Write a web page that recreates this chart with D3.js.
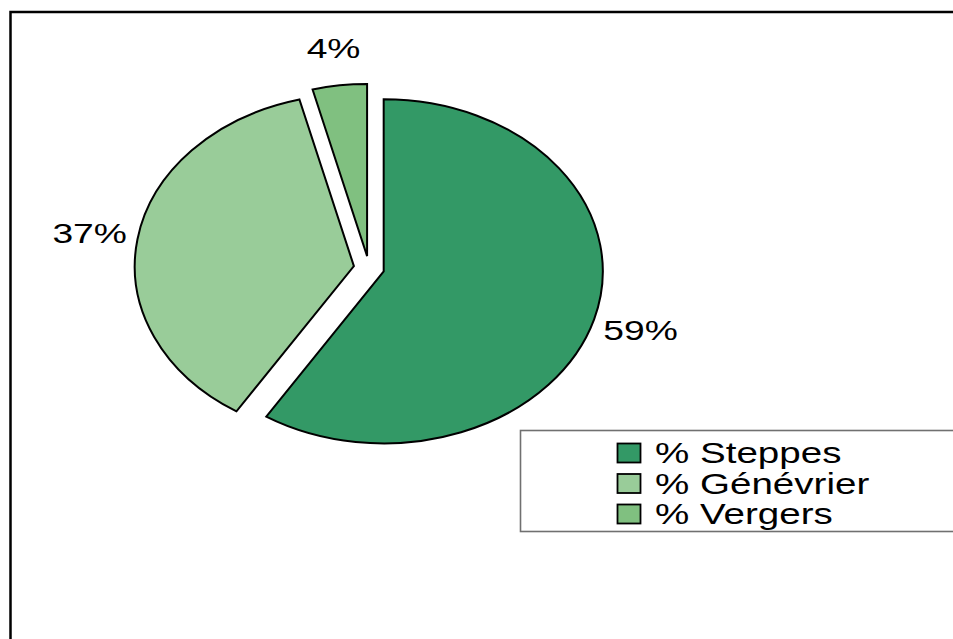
<!DOCTYPE html>
<html><head><meta charset="utf-8">
<script src="https://cdn.jsdelivr.net/npm/d3@7"></script>
<style>body{margin:0;background:#fff}svg{display:block}text{font-family:"Liberation Sans",Arial,sans-serif;fill:#000}</style>
</head><body><script>
const categories = ["% Steppes", "% Génévrier", "% Vergers"];
const values = [59, 37, 4];
const labels = ["59%", "37%", "4%"];
const colors = ["#339966", "#99cc99", "#80c080"];

const W = 953, H = 639;
const svg = d3.select("body").append("svg").attr("width", W).attr("height", H);
svg.append("rect").attr("width", W).attr("height", H).attr("fill", "#fff");
// outer frame (extends past right/bottom edges)
svg.append("rect").attr("x", 10.5).attr("y", 12).attr("width", 1000).attr("height", 700)
  .attr("fill", "none").attr("stroke", "#000").attr("stroke-width", 2.5);

const cx = 369, cy = 268, r = 172, sx = 1.274, explode = 12, labelR = 222, tx = 1.33;
const pie = d3.pie().sort(null).value(d => d)(values);
const arc = d3.arc().innerRadius(0).outerRadius(r);
const mid = d => (d.startAngle + d.endAngle) / 2;

const g = svg.append("g").attr("transform", `translate(${cx},${cy}) scale(${sx},1)`);
g.selectAll("path").data(pie).join("path")
  .attr("transform", d => `translate(${explode * Math.sin(mid(d))},${-explode * Math.cos(mid(d))})`)
  .attr("d", arc)
  .attr("fill", (d, i) => colors[i])
  .attr("stroke", "#000").attr("stroke-width", 2)
  .attr("vector-effect", "non-scaling-stroke")
  .attr("stroke-linejoin", "miter");

svg.selectAll("text.lbl").data(pie).join("text").attr("class", "lbl")
  .attr("transform", d => `translate(${cx + sx * labelR * Math.sin(mid(d))},${cy - labelR * Math.cos(mid(d)) + 10}) scale(${tx},1)`)
  .attr("text-anchor", "middle")
  .style("font-size", "28px")
  .text((d, i) => labels[i]);

// legend
svg.append("rect").attr("x", 520.5).attr("y", 430.5).attr("width", 500).attr("height", 101)
  .attr("fill", "#fff").attr("stroke", "#707070").attr("stroke-width", 1.6);
const ly = d3.scalePoint().domain(categories).range([443, 504]);
const leg = svg.selectAll("g.leg").data(categories).join("g").attr("class", "leg")
  .attr("transform", d => `translate(0,${ly(d)})`);
leg.append("rect").attr("x", 617.5).attr("y", 0.5).attr("width", 23).attr("height", 19)
  .attr("fill", (d, i) => colors[i]).attr("stroke", "#000").attr("stroke-width", 1.8);
leg.append("text")
  .attr("transform", `translate(655,20) scale(${tx},1)`)
  .style("font-size", "29px")
  .text(d => d);
</script></body></html>
